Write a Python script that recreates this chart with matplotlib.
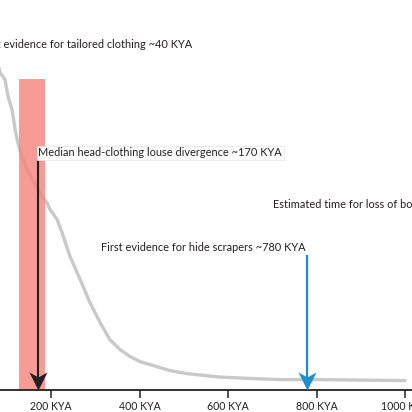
import numpy as np
import matplotlib
matplotlib.use("Agg")
import matplotlib.pyplot as plt
from matplotlib.path import Path

plt.rcParams['font.family'] = ['Lato', 'DejaVu Sans']

# distribution curve (time in KYA, relative frequency)
kya = [75, 85, 96, 103, 112, 119, 125, 134, 146, 157, 168, 180, 191, 198,
       214, 225, 243, 266, 288, 311, 333, 356, 379, 401, 424, 446, 469, 507,
       550, 582, 657, 717, 800, 900, 1000]
freq = [3.35, 3.17, 3.10, 2.93, 2.80, 2.60, 2.47, 2.33, 2.20, 2.10, 2.02, 1.93,
        1.87, 1.80, 1.70, 1.57, 1.33, 1.10, 0.87, 0.67, 0.50, 0.40, 0.33, 0.28,
        0.25, 0.22, 0.19, 0.16, 0.14, 0.125, 0.11, 0.10, 0.10, 0.095, 0.09]

tick_vals = [0, 200, 400, 600, 800, 1000]
tick_labels = ['0 KYA', '200 KYA', '400 KYA', '600 KYA', '800 KYA', '1000 KYA']

band_start, band_end = 128, 186   # louse divergence interval
louse_kya = 170
scraper_kya = 778

fig = plt.figure(figsize=(4.12, 4.12), dpi=100)
# axes extend beyond the figure on the left/right (cropped look)
ax = fig.add_axes([-37.5 / 412, 22.4 / 412, 1100 * 0.4425 / 412, 389.6 / 412])
ax.set_xlim(0, 1100)
ax.set_ylim(0, 3.896)

ax.plot(kya, freq, color='#c9c9c9', lw=2.4, solid_capstyle='round',
        solid_joinstyle='round', zorder=1)

ax.fill_between([band_start, band_end], 0, 3.106, color='#f4827c', alpha=0.8,
                lw=0, zorder=2)

# concave arrow head marker, tip at the data point
head = Path([(0, 0), (-0.5, 1), (0, 0.72), (0.5, 1), (0, 0)],
            [Path.MOVETO, Path.LINETO, Path.LINETO, Path.LINETO, Path.CLOSEPOLY])

ax.plot([louse_kya, louse_kya], [2.296, 0.1], color='#231f20', lw=1.5, zorder=3)
ax.plot([louse_kya], [0], marker=head, ms=26, color='#231f20', mew=0, zorder=4)

ax.plot([scraper_kya, scraper_kya], [1.336, 0.1], color='#1d8fd1', lw=1.6, zorder=3)
ax.plot([scraper_kya], [0], marker=head, ms=26, color='#1d8fd1', mew=0, zorder=4)

fs = 7.9
ax.text(519, 3.446, 'First evidence for tailored clothing ~40 KYA', ha='right',
        va='center', fontsize=fs, color='#231f20')
ax.text(171, 2.366, 'Median head-clothing louse divergence ~170 KYA', ha='left',
        va='center', fontsize=fs, color='#231f20', zorder=5,
        bbox=dict(boxstyle='square,pad=0.15', fc='white', ec='#e4e4e4', lw=0.5))
ax.text(702, 1.846, 'Estimated time for loss of body hair ~1.2 MYA', ha='left',
        va='center', fontsize=fs, color='#231f20')
ax.text(776, 1.416, 'First evidence for hide scrapers ~780 KYA', ha='right',
        va='center', fontsize=fs, color='#231f20')

for s in ['top', 'right', 'left']:
    ax.spines[s].set_visible(False)
ax.spines['bottom'].set_linewidth(1.3)
ax.spines['bottom'].set_color('#231f20')
ax.set_yticks([])
ax.set_xticks(tick_vals)
ax.set_xticklabels(tick_labels, fontsize=7.6, color='#231f20')
ax.tick_params(axis='x', length=6, width=1.1, color='#231f20', pad=2)

fig.savefig('out.png', dpi=100)
